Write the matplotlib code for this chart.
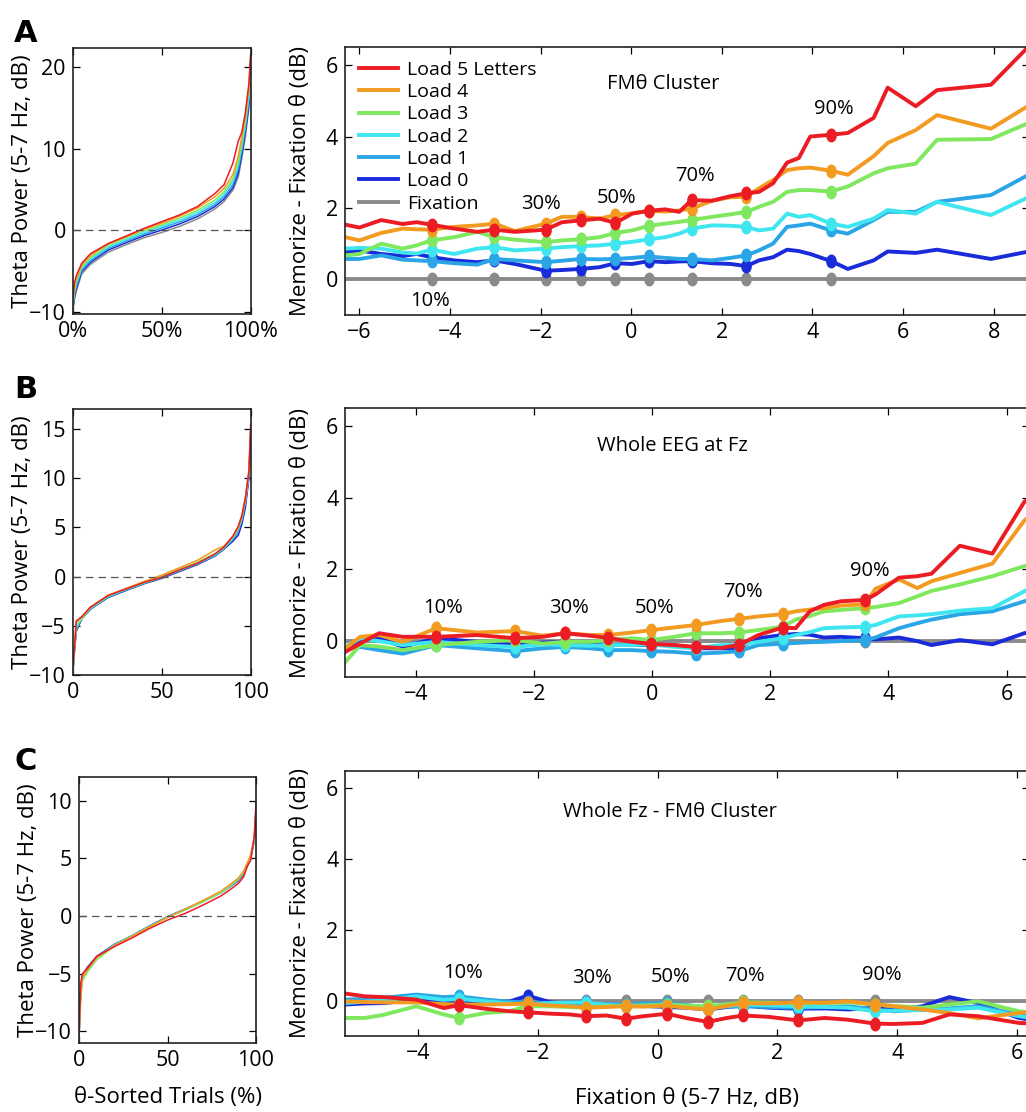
import numpy as np
import matplotlib
matplotlib.use('Agg')
import matplotlib.pyplot as plt
from matplotlib.path import Path

plt.rcParams['font.family'] = ['Open Sans', 'DejaVu Sans']

# ---------------- data ----------------
series_names = ['Fixation', 'Load 0', 'Load 1', 'Load 2', 'Load 3', 'Load 4', 'Load 5 Letters']
series_colors = ['#8a8a8a', '#1a2bd9', '#2aa6e6', '#3fe6ef', '#7fe85e', '#f39a21', '#ec1c24']

# left panels: theta power vs sorted-trial percentile
pct = [0, 1, 2, 5, 10, 20, 30, 40, 50, 60, 70, 80, 85, 90, 93, 95, 97, 99, 100]

A_left_fix = [-10, -8.5, -7.5, -5.4, -4.2, -2.7, -1.8, -0.95, -0.3, 0.45, 1.35, 2.6, 3.5, 4.9, 6.5, 8.8, 11.5, 15, 19.5]
A_left_l0 = [-9.8, -8.2, -7.2, -5.1, -3.95, -2.45, -1.55, -0.7, 0.0, 0.75, 1.65, 2.9, 3.8, 5.2, 7.0, 9.3, 12.0, 15.5, 20]
A_left_l1 = [-9.6, -7.9, -6.9, -4.9, -3.75, -2.25, -1.35, -0.5, 0.25, 1.0, 1.9, 3.15, 4.1, 5.6, 7.5, 9.8, 12.5, 16, 20.5]
A_left_l2 = [-9.4, -7.6, -6.6, -4.7, -3.55, -2.05, -1.15, -0.3, 0.45, 1.2, 2.15, 3.4, 4.4, 6.0, 8.0, 10.3, 13.0, 16.5, 21]
A_left_l3 = [-9.2, -7.3, -6.3, -4.5, -3.35, -1.85, -0.95, -0.1, 0.65, 1.45, 2.4, 3.7, 4.7, 6.3, 8.4, 10.7, 13.4, 17, 21.2]
A_left_l4 = [-9.0, -7.0, -6.0, -4.3, -3.1, -1.7, -0.8, 0.1, 0.85, 1.7, 2.7, 4.1, 5.1, 6.8, 9.0, 11.4, 14.0, 17.5, 21.4]
A_left_l5 = [-8.5, -6.5, -5.6, -4.1, -2.9, -1.65, -0.74, 0.2, 1.03, 1.85, 2.88, 4.5, 5.56, 8.2, 10.9, 12.0, 14.4, 18, 21.6]

B_left_fix = [-10, -7.5, -5.6, -4.3, -3.3, -2.1, -1.4, -0.75, -0.2, 0.5, 1.2, 2.1, 2.8, 3.7, 4.6, 5.6, 7.3, 10.3, 14.5]
B_left_l0 = [-10, -7.5, -5.5, -4.3, -3.3, -2.1, -1.4, -0.7, -0.15, 0.55, 1.25, 2.1, 2.8, 3.6, 4.2, 5.3, 7.0, 10.0, 14.0]
B_left_l1 = [-10, -7.4, -5.4, -4.3, -3.3, -2.05, -1.35, -0.7, -0.1, 0.6, 1.3, 2.15, 2.85, 3.8, 4.6, 5.7, 7.5, 10.3, 14.2]
B_left_l2 = [-9.9, -7.3, -5.2, -4.2, -3.2, -2.0, -1.3, -0.65, -0.05, 0.65, 1.35, 2.2, 2.9, 3.9, 4.8, 5.9, 7.7, 10.5, 14.5]
B_left_l3 = [-9.8, -7.2, -4.9, -4.3, -3.15, -1.95, -1.25, -0.6, 0.05, 0.75, 1.45, 2.35, 3.0, 4.0, 4.9, 6.0, 7.8, 10.6, 14.8]
B_left_l4 = [-9.8, -7.2, -4.6, -4.1, -3.1, -1.9, -1.2, -0.5, 0.15, 0.9, 1.65, 2.7, 3.1, 4.1, 5.0, 6.1, 7.9, 10.7, 15.0]
B_left_l5 = [-9.5, -7.2, -4.5, -4.1, -3.1, -1.9, -1.25, -0.6, -0.07, 0.68, 1.35, 2.3, 3.0, 4.1, 5.1, 6.2, 8.0, 10.7, 15.5]

C_left_fix = [-10.5, -6.5, -5.2, -4.5, -3.6, -2.55, -1.75, -0.9, -0.1, 0.55, 1.25, 2.0, 2.5, 3.05, 3.6, 4.3, 5.0, 6.5, 8.8]
C_left_l0 = [-10.5, -6.4, -5.1, -4.4, -3.5, -2.45, -1.7, -0.85, -0.05, 0.6, 1.3, 2.05, 2.55, 3.1, 3.7, 4.4, 5.2, 6.6, 9.0]
C_left_l1 = [-10.5, -6.5, -5.2, -4.5, -3.55, -2.5, -1.7, -0.85, -0.05, 0.6, 1.3, 2.05, 2.6, 3.2, 3.8, 4.5, 5.1, 6.5, 8.9]
C_left_l2 = [-10.5, -6.6, -5.3, -4.6, -3.6, -2.5, -1.7, -0.9, -0.1, 0.55, 1.25, 2.0, 2.55, 3.15, 3.75, 4.4, 5.0, 6.6, 9.0]
C_left_l3 = [-10.8, -7.0, -5.6, -4.8, -3.8, -2.6, -1.75, -0.95, -0.1, 0.55, 1.25, 2.05, 2.6, 3.2, 3.8, 4.5, 5.2, 6.7, 9.1]
C_left_l4 = [-10.5, -6.6, -5.3, -4.6, -3.6, -2.55, -1.75, -0.9, -0.1, 0.6, 1.35, 2.15, 2.7, 3.3, 3.9, 4.6, 5.3, 6.8, 9.2]
C_left_l5 = [-10.2, -5.8, -5.0, -4.5, -3.5, -2.65, -1.9, -1.07, -0.35, 0.23, 0.95, 1.73, 2.25, 2.83, 3.4, 4.3, 4.85, 6.9, 9.8]

# right panels: memorize - fixation theta vs fixation theta
A_x = [-6.31, -6.00, -5.52, -5.05, -4.74, -4.41, -3.91, -3.40, -3.02, -2.57, -1.89, -1.53, -1.12, -0.70,
       -0.35, 0.02, 0.39, 0.75, 1.06, 1.33, 1.78, 2.19, 2.54, 2.82, 3.13, 3.44, 3.70, 3.95, 4.41, 4.78,
       5.35, 5.66, 6.28, 6.75, 7.94, 8.70, 9.00]
A_fix = [0.0] * 37
A_l0 = [0.76, 0.81, 0.71, 0.65, 0.71, 0.62, 0.53, 0.48, 0.53, 0.43, 0.24, 0.26, 0.29, 0.34, 0.45, 0.43, 0.51, 0.48,
        0.50, 0.51, 0.45, 0.43, 0.37, 0.53, 0.62, 0.83, 0.79, 0.71, 0.51, 0.29, 0.53, 0.78, 0.74, 0.83, 0.57, 0.76, 0.80]
A_l1 = [0.57, 0.57, 0.67, 0.55, 0.53, 0.51, 0.45, 0.41, 0.57, 0.53, 0.48, 0.52, 0.57, 0.56, 0.57, 0.60, 0.64, 0.60,
        0.57, 0.57, 0.53, 0.60, 0.67, 0.81, 1.00, 1.47, 1.51, 1.56, 1.37, 1.28, 1.66, 1.89, 1.89, 2.17, 2.36, 2.88, 3.10]
A_l2 = [0.86, 0.88, 0.86, 0.75, 0.72, 0.83, 0.71, 0.86, 0.90, 0.81, 0.86, 0.90, 0.93, 0.95, 1.00, 1.05, 1.12, 1.18,
        1.28, 1.42, 1.51, 1.50, 1.47, 1.37, 1.42, 1.84, 1.75, 1.80, 1.56, 1.47, 1.70, 1.94, 1.84, 2.17, 1.80, 2.26, 2.45]
A_l3 = [0.67, 0.71, 1.00, 0.86, 0.95, 1.09, 1.18, 1.33, 1.18, 1.11, 1.04, 1.09, 1.12, 1.18, 1.30, 1.37, 1.50, 1.56,
        1.61, 1.66, 1.75, 1.82, 1.89, 2.03, 2.17, 2.45, 2.50, 2.50, 2.46, 2.60, 2.97, 3.11, 3.24, 3.91, 3.93, 4.34, 4.50]
A_l4 = [1.18, 1.09, 1.30, 1.42, 1.40, 1.39, 1.47, 1.51, 1.56, 1.35, 1.56, 1.75, 1.75, 1.70, 1.80, 1.85, 1.92, 1.90,
        1.93, 1.98, 2.20, 2.30, 2.31, 2.55, 2.78, 3.06, 3.11, 3.13, 3.04, 2.93, 3.45, 3.82, 4.18, 4.60, 4.22, 4.81, 5.05]
A_l5 = [1.53, 1.45, 1.66, 1.55, 1.60, 1.53, 1.42, 1.33, 1.39, 1.33, 1.39, 1.60, 1.65, 1.70, 1.58, 1.84, 1.92, 1.96,
        1.89, 2.22, 2.20, 2.33, 2.41, 2.45, 2.69, 3.27, 3.40, 4.00, 4.05, 4.10, 4.52, 5.37, 4.85, 5.30, 5.45, 6.43, 6.80]
A_decile_idx = [5, 8, 10, 12, 14, 16, 19, 22, 28]

B_x = [-5.19, -4.94, -4.62, -4.22, -3.65, -2.96, -2.32, -1.85, -1.47, -1.05, -0.74, -0.34, -0.01, 0.37, 0.74,
       1.16, 1.47, 1.80, 2.21, 2.43, 2.67, 2.91, 3.19, 3.61, 3.78, 4.18, 4.49, 4.73, 5.21, 5.76, 6.30, 6.55]
B_fix = [0.0] * 32
B_l0 = [-0.20, 0.00, 0.10, -0.16, 0.08, -0.02, -0.11, -0.04, -0.02, -0.07, -0.11, -0.11, -0.11, -0.11, -0.20, -0.20,
        -0.19, 0.08, 0.17, 0.20, 0.18, 0.10, 0.12, 0.08, 0.05, 0.10, 0.00, -0.11, 0.03, -0.09, 0.22, 0.30]
B_l1 = [-0.20, -0.16, -0.25, -0.35, -0.11, -0.20, -0.28, -0.20, -0.16, -0.20, -0.25, -0.25, -0.28, -0.30, -0.35, -0.32,
        -0.28, -0.11, -0.07, -0.05, -0.03, -0.02, 0.00, 0.03, 0.10, 0.36, 0.50, 0.60, 0.75, 0.83, 1.11, 1.25]
B_l2 = [-0.16, 0.08, 0.00, -0.11, -0.02, -0.11, -0.16, -0.09, -0.11, -0.13, -0.11, -0.11, -0.09, -0.16, -0.20, -0.11,
        -0.11, -0.02, 0.08, 0.17, 0.25, 0.36, 0.38, 0.40, 0.45, 0.69, 0.72, 0.75, 0.85, 0.92, 1.39, 1.60]
B_l3 = [-0.58, -0.11, -0.15, -0.25, -0.11, -0.02, 0.03, -0.07, -0.02, -0.02, 0.03, 0.08, 0.03, 0.12, 0.22, 0.22,
        0.24, 0.31, 0.40, 0.60, 0.70, 0.83, 0.87, 0.92, 0.95, 1.06, 1.25, 1.40, 1.58, 1.81, 2.09, 2.20]
B_l4 = [-0.20, 0.12, 0.17, -0.02, 0.36, 0.24, 0.28, 0.15, 0.22, 0.17, 0.17, 0.24, 0.31, 0.38, 0.45, 0.56,
        0.62, 0.69, 0.75, 0.83, 0.88, 0.92, 0.99, 1.03, 1.46, 1.72, 1.48, 1.67, 1.90, 2.16, 3.36, 3.70]
B_l5 = [-0.30, -0.07, 0.22, 0.12, 0.12, 0.17, 0.08, 0.12, 0.22, 0.15, 0.09, -0.02, -0.08, -0.11, -0.16, -0.19,
        -0.11, 0.17, 0.38, 0.36, 0.83, 1.01, 1.11, 1.15, 1.30, 1.77, 1.81, 1.88, 2.66, 2.44, 3.88, 4.20]
B_decile_idx = [4, 6, 8, 10, 12, 14, 16, 18, 23]

C_x = [-5.21, -4.88, -4.57, -4.03, -3.57, -3.31, -2.87, -2.48, -2.17, -1.78, -1.47, -1.20, -0.85, -0.53, -0.23,
       0.16, 0.47, 0.84, 1.16, 1.43, 1.86, 2.35, 2.79, 3.18, 3.63, 3.95, 4.42, 4.87, 5.35, 6.03, 6.28]
C_fix = [0.0] * 31
C_l0 = [-0.11, -0.08, -0.07, 0.03, -0.05, -0.07, -0.05, -0.03, 0.14, -0.05, -0.08, -0.11, -0.13, -0.16, -0.15,
        -0.18, -0.20, -0.25, -0.18, -0.14, -0.20, -0.23, -0.22, -0.25, -0.20, -0.27, -0.16, 0.10, -0.07, -0.49, -0.55]
C_l1 = [0.03, 0.05, 0.08, 0.17, 0.10, 0.12, 0.03, -0.03, -0.05, -0.07, -0.05, -0.05, -0.10, -0.11, -0.08,
        -0.07, -0.12, -0.20, -0.17, -0.16, -0.18, -0.20, -0.18, -0.16, -0.25, -0.30, -0.25, -0.22, -0.16, -0.40, -0.45]
C_l2 = [-0.07, -0.03, 0.00, 0.12, 0.02, 0.05, -0.02, -0.08, -0.11, -0.07, -0.06, -0.06, -0.12, -0.16, -0.14,
        -0.11, -0.15, -0.20, -0.15, -0.11, -0.13, -0.16, -0.18, -0.20, -0.30, -0.28, -0.27, -0.25, -0.20, -0.44, -0.50]
C_l3 = [-0.49, -0.49, -0.40, -0.16, -0.39, -0.49, -0.35, -0.30, -0.16, -0.16, -0.18, -0.20, -0.16, -0.14, -0.14,
        -0.11, -0.14, -0.16, -0.10, -0.05, -0.06, -0.07, -0.07, -0.05, -0.11, -0.15, -0.20, -0.11, -0.02, -0.30, -0.35]
C_l4 = [-0.02, -0.04, -0.05, -0.05, -0.10, -0.11, -0.11, -0.10, -0.08, -0.14, -0.16, -0.20, -0.18, -0.16, -0.17,
        -0.14, -0.20, -0.25, -0.15, -0.07, -0.08, -0.05, -0.06, -0.02, -0.11, -0.16, -0.25, -0.35, -0.50, -0.35, -0.30]
C_l5 = [0.20, 0.12, 0.10, 0.03, -0.21, -0.13, -0.23, -0.30, -0.33, -0.37, -0.39, -0.44, -0.42, -0.51, -0.44,
        -0.37, -0.49, -0.60, -0.49, -0.42, -0.46, -0.56, -0.49, -0.54, -0.65, -0.66, -0.63, -0.39, -0.44, -0.63, -0.65]
C_decile_idx = [5, 8, 11, 13, 15, 17, 19, 21, 24]

pct_labels = ['10%', '30%', '50%', '70%', '90%']
panel_titles = ['FM\u03b8 Cluster', 'Whole EEG at Fz', 'Whole Fz - FM\u03b8 Cluster']
panel_letters = ['A', 'B', 'C']

# ---------------- figure ----------------
W, H = 1026, 1112
fig = plt.figure(figsize=(W / 100, H / 100), dpi=100)

_circ = Path.unit_circle()
ellipse_marker = Path(_circ.vertices * np.array([1.0, 1.35]), _circ.codes)

TICK_FS = 15.5
LABEL_FS = 16
TEXT_FS = 14.5


def px_axes(x0, y0, x1, y1):
    return fig.add_axes([x0 / W, 1 - y1 / H, (x1 - x0) / W, (y1 - y0) / H])


def style(ax):
    ax.tick_params(direction='in', top=True, right=True, length=5, width=0.9,
                   labelsize=TICK_FS, pad=5)
    for s in ax.spines.values():
        s.set_linewidth(1.2)
        s.set_color('#222222')


left_specs = [
    dict(box=(72.7, 48.3, 250.7, 314.0), ylim=(-10.3, 22.3), yticks=[-10, 0, 10, 20],
         xt=['0%', '50%', '100%'],
         data=[A_left_fix, A_left_l0, A_left_l1, A_left_l2, A_left_l3, A_left_l4, A_left_l5]),
    dict(box=(72.7, 409.3, 250.7, 675.0), ylim=(-10.0, 17.0), yticks=[-10, -5, 0, 5, 10, 15],
         xt=['0', '50', '100'],
         data=[B_left_fix, B_left_l0, B_left_l1, B_left_l2, B_left_l3, B_left_l4, B_left_l5]),
    dict(box=(79.0, 777.3, 256.0, 1042.7), ylim=(-11.0, 12.05), yticks=[-10, -5, 0, 5, 10],
         xt=['0', '50', '100'],
         data=[C_left_fix, C_left_l0, C_left_l1, C_left_l2, C_left_l3, C_left_l4, C_left_l5]),
]

right_specs = [
    dict(box=(345.0, 47.3, 1029.0, 315.0), xlim=(-6.32, 8.78), xticks=[-6, -4, -2, 0, 2, 4, 6, 8],
         x=A_x, data=[A_fix, A_l0, A_l1, A_l2, A_l3, A_l4, A_l5], idx=A_decile_idx,
         title_xy=(0.70, 5.48),
         pct_xy=[(-4.45, -0.6), (-2.0, 2.1), (-0.32, 2.27), (1.4, 2.9), (4.47, 4.76)]),
    dict(box=(345.4, 408.0, 1029.0, 677.0), xlim=(-5.19, 6.38), xticks=[-4, -2, 0, 2, 4, 6],
         x=B_x, data=[B_fix, B_l0, B_l1, B_l2, B_l3, B_l4, B_l5], idx=B_decile_idx,
         title_xy=(0.35, 5.43),
         pct_xy=[(-3.53, 0.92), (-1.40, 0.92), (0.04, 0.92), (1.53, 1.37), (3.68, 1.95)]),
    dict(box=(345.4, 770.7, 1029.0, 1036.0), xlim=(-5.21, 6.2), xticks=[-4, -2, 0, 2, 4, 6],
         x=C_x, data=[C_fix, C_l0, C_l1, C_l2, C_l3, C_l4, C_l5], idx=C_decile_idx,
         title_xy=(0.20, 5.33),
         pct_xy=[(-3.24, 0.78), (-1.09, 0.64), (0.21, 0.67), (1.46, 0.70), (3.74, 0.73)]),
]

letter_baselines = [42, 398, 770]

for i in range(3):
    ls = left_specs[i]
    axl = px_axes(*ls['box'])
    for ys, col in zip(ls['data'], series_colors):
        axl.plot(pct, ys, color=col, lw=1.1)
    axl.axhline(0, color='#555555', lw=0.9, ls=(0, (6, 4)))
    axl.set_xlim(0, 100)
    axl.set_ylim(*ls['ylim'])
    axl.set_yticks(ls['yticks'])
    axl.set_xticks([0, 50, 100])
    axl.set_xticklabels(ls['xt'])
    style(axl)
    axl.set_ylabel('Theta Power (5-7 Hz, dB)', fontsize=LABEL_FS)
    axl.yaxis.set_label_coords(-0.225, 0.5)
    if i == 2:
        axl.set_xlabel('\u03b8-Sorted Trials (%)', fontsize=LABEL_FS, labelpad=12)

    rs = right_specs[i]
    axr = px_axes(*rs['box'])
    handles = {}
    for ys, col, name in zip(rs['data'], series_colors, series_names):
        xs = np.array(rs['x'])
        ya = np.array(ys)
        (h,) = axr.plot(xs, ya, color=col, lw=2.8, solid_joinstyle='round')
        axr.plot(xs[rs['idx']], ya[rs['idx']], ls='none', marker=ellipse_marker,
                 color=col, ms=9, mec=col)
        handles[name] = h
    axr.set_xlim(*rs['xlim'])
    axr.set_ylim(-1, 6.5)
    axr.set_xticks(rs['xticks'])
    axr.set_yticks([0, 2, 4, 6])
    style(axr)
    axr.set_ylabel('Memorize - Fixation \u03b8 (dB)', fontsize=LABEL_FS)
    axr.yaxis.set_label_coords(-0.05, 0.5)
    axr.text(*rs['title_xy'], panel_titles[i], fontsize=TEXT_FS, ha='center', va='center')
    for lab, (tx, ty) in zip(pct_labels, rs['pct_xy']):
        axr.text(tx, ty, lab, fontsize=TEXT_FS, ha='center', va='center')
    if i == 0:
        order = series_names[::-1]
        axr.legend([handles[n] for n in order], order, loc='upper left', frameon=False,
                   fontsize=14, handlelength=2.0, handletextpad=0.5, labelspacing=0.22,
                   borderaxespad=0.3, bbox_to_anchor=(0.0, 1.0))
    if i == 2:
        axr.set_xlabel('Fixation \u03b8 (5-7 Hz, dB)', fontsize=LABEL_FS, labelpad=17)

    fig.text(14 / W, 1 - letter_baselines[i] / H, panel_letters[i], fontsize=22,
             fontweight='bold', va='baseline', ha='left', family=['DejaVu Sans'])

fig.savefig('out.png', dpi=100)
